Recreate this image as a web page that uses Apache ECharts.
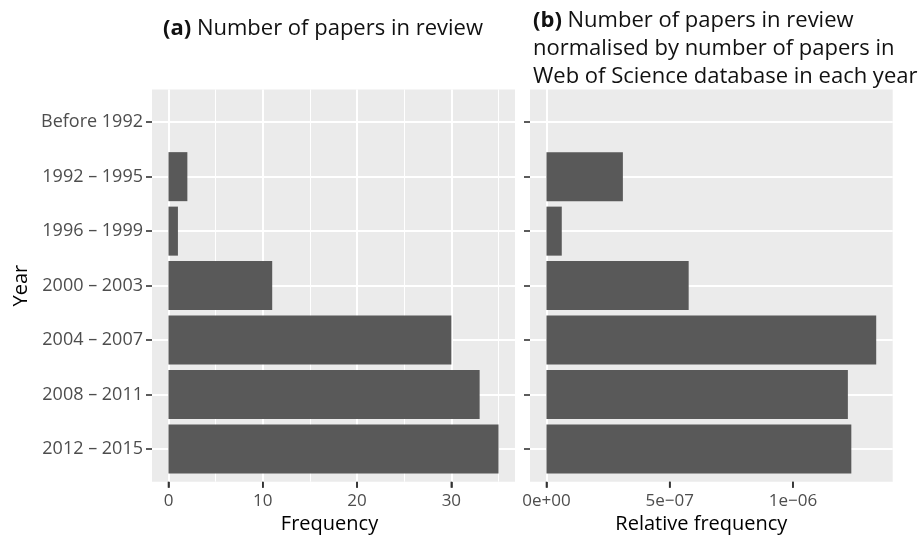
<!DOCTYPE html>
<html>
<head>
<meta charset="utf-8">
<script src="https://cdn.jsdelivr.net/npm/echarts@6/dist/echarts.min.js"></script>
<style>
html,body{margin:0;padding:0;background:#fff;}
#chart{width:922px;height:538px;}
</style>
</head>
<body>
<div id="chart"></div>
<script>
const categories = ['Before 1992', '1992 – 1995', '1996 – 1999', '2000 – 2003', '2004 – 2007', '2008 – 2011', '2012 – 2015'];
const frequency = [0, 2, 1, 11, 30, 33, 35];
const relativeFrequency = [0, 3.1e-7, 6.2e-8, 5.77e-7, 1.338e-6, 1.223e-6, 1.237e-6];
const freqTicks = [0, 10, 20, 30];
const freqTickLabels = ['0', '10', '20', '30'];
const freqMinor = [5, 15, 25, 35];
const relTicks = [0, 5e-7, 1e-6];
const relTickLabels = ['0e+00', '5e\u221207', '1e\u221206'];
const relMinor = [2.5e-7, 7.5e-7, 1.25e-6];
const titleA = 'Number of papers in review';
const titleB = ['Number of papers in review', 'normalised by number of papers in', 'Web of Science database in each year'];

const FONT = 'Open Sans';
const BG = '#EBEBEB';
const BAR = '#595959';
const TXT = '#4D4D4D';
const TICK = '#333333';
const HIDDEN_LINE = {show: true, onZero: false, lineStyle: {color: 'rgba(255,255,255,0)', width: 1}};

function expand(vals) {
  const mx = Math.max.apply(null, vals.concat([0]));
  return [-0.05 * mx, mx * 1.05];
}
const extA = expand(frequency);
const extB = expand(relativeFrequency);

const panelTop = 89.5, panelH = 392.2;
const band = panelH / (categories.length + 0.2);
const dataTop = panelTop + band * 0.1, dataH = band * categories.length;
const tickLen = 6;
const panels = [
  {left: 152, width: 363, ext: extA, ticks: freqTicks, labels: freqTickLabels, minor: freqMinor, name: 'Frequency', namePad: [0, 8, 0, 0]},
  {left: 530, width: 362.7, ext: extB, ticks: relTicks, labels: relTickLabels, minor: relMinor, name: 'Relative frequency', namePad: [0, 20, 0, 0]}
];

const grids = [], xAxes = [], yAxes = [], series = [];
const mlBase = {silent: true, symbol: ['none', 'none'], label: {show: false}, z: 1, animation: false};

panels.forEach((p, k) => {
  const g0 = grids.length;
  p.g0 = g0;
  const span = p.ext[1] - p.ext[0];
  const first = p.ticks[0], last = p.ticks[p.ticks.length - 1];
  // 0: background panel grid
  grids.push({left: p.left, width: p.width, top: panelTop, height: panelH, show: true, backgroundColor: BG, borderWidth: 0, containLabel: false, outerBoundsMode: 'none'});
  // 1: bar grid (category band padding like ggplot)
  grids.push({left: p.left, width: p.width, top: dataTop, height: dataH, show: false, containLabel: false, outerBoundsMode: 'none'});
  // 2: label grid spanning exactly the first..last (evenly spaced) tick
  grids.push({left: p.left + (first - p.ext[0]) / span * p.width, width: (last - first) / span * p.width,
    top: panelTop, height: panelH, show: false, containLabel: false, outerBoundsMode: 'none'});

  xAxes.push({type: 'value', gridIndex: g0, min: p.ext[0], max: p.ext[1], position: 'bottom',
    axisLine: HIDDEN_LINE, axisTick: {show: false}, axisLabel: {show: false}, splitLine: {show: false},
    name: p.name, nameLocation: 'middle', nameGap: 33, nameMoveOverlap: false,
    nameTextStyle: {color: '#000', fontFamily: FONT, fontSize: 20, padding: p.namePad}});
  xAxes.push({type: 'value', gridIndex: g0 + 1, min: p.ext[0], max: p.ext[1], show: false, splitLine: {show: false}});
  xAxes.push({type: 'category', gridIndex: g0 + 2, data: p.labels, boundaryGap: false, position: 'bottom',
    axisLine: HIDDEN_LINE,
    axisTick: {show: true, length: tickLen, interval: 0, lineStyle: {color: TICK, width: 1.6}},
    axisLabel: {show: true, interval: 0, color: TXT, fontFamily: FONT, fontSize: 17, margin: 11},
    splitLine: {show: false}});

  yAxes.push({type: 'value', gridIndex: g0, min: 0, max: 1, show: false});
  const cat = {
    type: 'category', gridIndex: g0 + 1, data: categories, inverse: true, position: 'left',
    axisLine: HIDDEN_LINE,
    axisTick: {show: true, alignWithLabel: true, length: tickLen, lineStyle: {color: TICK, width: 1.6}},
    axisLabel: {show: k === 0, color: TXT, fontFamily: FONT, fontSize: 18, margin: 9},
    splitLine: {show: false}
  };
  if (k === 0) {
    cat.name = 'Year'; cat.nameLocation = 'middle'; cat.nameGap = 121; cat.nameMoveOverlap = false;
    cat.nameTextStyle = {color: '#000', fontFamily: FONT, fontSize: 20};
  }
  yAxes.push(cat);
  yAxes.push({type: 'value', gridIndex: g0 + 2, min: 0, max: 1, show: false});

  const vLines = p.ticks.map(v => ({xAxis: v, lineStyle: {color: '#fff', width: 2, type: 'solid'}}))
    .concat(p.minor.map(v => ({xAxis: v, lineStyle: {color: '#fff', width: 1, type: 'solid'}})));
  const hLines = categories.map(c => ({yAxis: c, lineStyle: {color: '#fff', width: 2, type: 'solid'}}));

  series.push({type: 'line', xAxisIndex: g0, yAxisIndex: g0, data: [], silent: true,
    markLine: Object.assign({}, mlBase, {data: vLines})});
  series.push({type: 'bar', xAxisIndex: g0 + 1, yAxisIndex: g0 + 1, data: k === 0 ? frequency : relativeFrequency,
    barWidth: '90%', z: 3, itemStyle: {color: BAR}, silent: true,
    markLine: Object.assign({}, mlBase, {data: hLines})});
});

const titleRich = {
  b: {fontFamily: FONT, fontSize: 22, fontWeight: 'bold', color: '#111', lineHeight: 28},
  n: {fontFamily: FONT, fontSize: 22, fontWeight: 'normal', color: '#111', lineHeight: 28}
};
const titleStyle = {rich: titleRich, fontFamily: FONT, fontSize: 22, fontWeight: 'normal', color: '#111', lineHeight: 28};
const titles = [
  {left: 163, top: 15, padding: 0,
   text: '{b|(a)}{n| ' + titleA + '}',
   textStyle: titleStyle},
  {left: 533, top: 7, padding: 0,
   text: '{b|(b)}{n| ' + titleB[0] + '}\n' + titleB.slice(1).map(t => '{n|' + t + '}').join('\n'),
   textStyle: titleStyle}
];

const chart = echarts.init(document.getElementById('chart'), null, {renderer: 'canvas'});
chart.setOption({
  animation: false,
  backgroundColor: '#fff',
  title: titles,
  grid: grids,
  xAxis: xAxes,
  yAxis: yAxes,
  series: series
});

// x-axis tick marks placed through the panel's own x scale
const tickGraphics = [];
panels.forEach(p => {
  p.ticks.forEach(v => {
    const pt = chart.convertToPixel({xAxisIndex: p.g0, yAxisIndex: p.g0}, [v, 0]);
    if (pt) {
      tickGraphics.push({type: 'line', silent: true, z: 100,
        shape: {x1: pt[0], y1: pt[1], x2: pt[0], y2: pt[1] + tickLen},
        style: {stroke: TICK, lineWidth: 1.6}});
    }
  });
});
chart.setOption({graphic: tickGraphics});
</script>
</body>
</html>
